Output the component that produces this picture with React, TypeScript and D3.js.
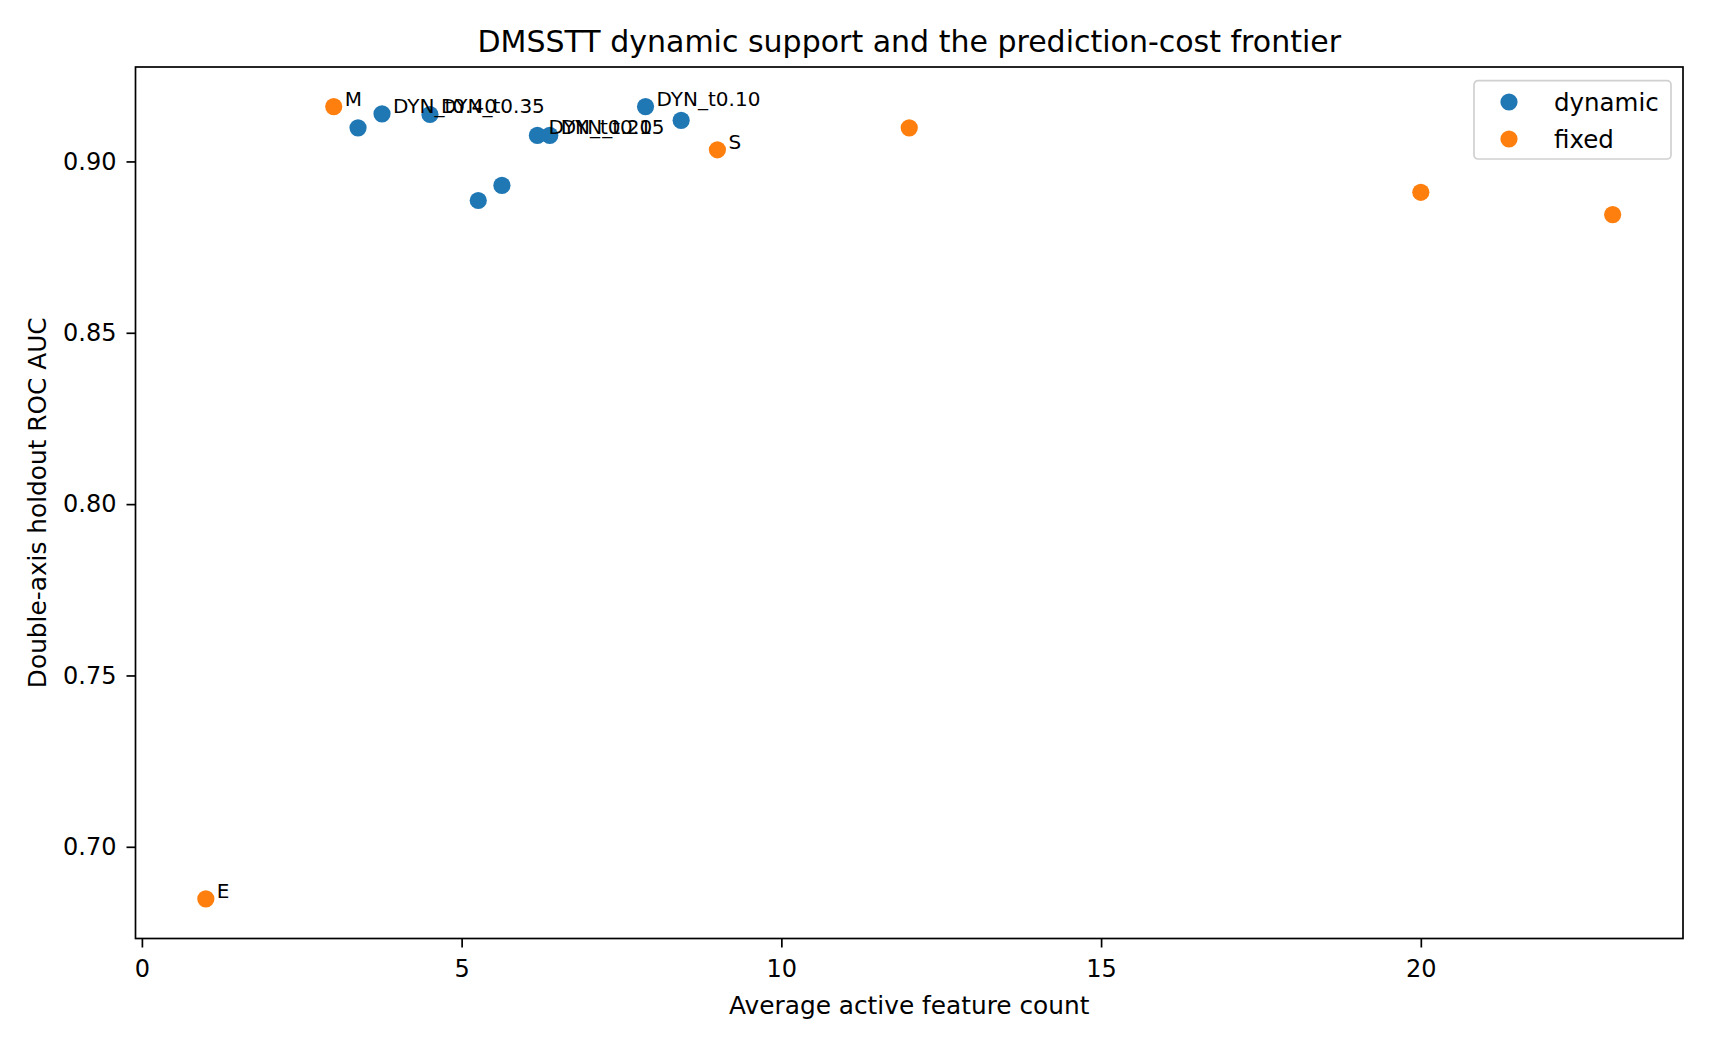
import React, { useEffect, useRef } from 'react';
import * as d3 from 'd3';

// dynamic-support runs (threshold sweep) and fixed-support baselines
const dynamicX = [3.38, 3.755, 4.505, 5.26, 5.63, 6.185, 6.378, 7.876, 8.433];
const dynamicY = [0.9098, 0.9139, 0.9137, 0.8886, 0.893, 0.9076, 0.9076, 0.916, 0.912];
const dynamicLabels = ['', 'DYN_t0.40', 'DYN_t0.35', '', '', 'DYN_t0.20', 'DYN_t0.15', 'DYN_t0.10', ''];

const fixedX = [1, 3, 9, 12, 20, 23];
const fixedY = [0.6848, 0.916, 0.9034, 0.9098, 0.891, 0.8845];
const fixedLabels = ['E', 'M', 'S', '', '', ''];

const xTicks = [0, 5, 10, 15, 20];
const yTicks = [0.7, 0.75, 0.8, 0.85, 0.9];

const seriesNames = ['dynamic', 'fixed'];
const colors = ['#1f77b4', '#ff7f0e'];

const FONT = '"DejaVu Sans", sans-serif';

const App: React.FC = () => {
  const xAxisRef = useRef<SVGGElement>(null);
  const yAxisRef = useRef<SVGGElement>(null);

  const width = 1710;
  const height = 1044;
  const margin = { top: 67, right: 27, bottom: 105.5, left: 135.5 };
  const plotW = width - margin.left - margin.right;
  const plotH = height - margin.top - margin.bottom;

  // matplotlib-style 5% auto margins
  const allX = [...dynamicX, ...fixedX];
  const allY = [...dynamicY, ...fixedY];
  const [x0, x1] = d3.extent(allX) as [number, number];
  const [y0, y1] = d3.extent(allY) as [number, number];
  const xPad = (x1 - x0) * 0.05;
  const yPad = (y1 - y0) * 0.05;

  const xScale = d3.scaleLinear().domain([x0 - xPad, x1 + xPad]).range([0, plotW]);
  const yScale = d3.scaleLinear().domain([y0 - yPad, y1 + yPad]).range([plotH, 0]);

  useEffect(() => {
    if (!xAxisRef.current || !yAxisRef.current) return;
    const xg = d3.select(xAxisRef.current);
    xg.selectAll('*').remove();
    xg.call(
      d3.axisBottom(xScale).tickValues(xTicks).tickFormat(d3.format('d')).tickSize(9).tickSizeOuter(0).tickPadding(12)
    );
    const yg = d3.select(yAxisRef.current);
    yg.selectAll('*').remove();
    yg.call(
      d3.axisLeft(yScale).tickValues(yTicks).tickFormat(d3.format('.2f')).tickSize(9).tickSizeOuter(0).tickPadding(10)
    );
    [xg, yg].forEach(g => {
      g.attr('font-family', FONT).attr('font-size', 24);
      g.select('.domain').remove();
      g.selectAll('.tick line').attr('stroke', '#000').attr('stroke-width', 1.7);
      g.selectAll('.tick text').attr('fill', '#000');
    });
  }, []);

  const series = [
    { xs: dynamicX, ys: dynamicY, labels: dynamicLabels },
    { xs: fixedX, ys: fixedY, labels: fixedLabels },
  ];

  return (
    <svg
      width={width}
      height={height}
      style={{ position: 'absolute', left: 0, top: 0, background: '#fff' }}
      fontFamily={FONT}
    >
      <rect width={width} height={height} fill="#fff" />
      <text x={margin.left + plotW / 2} y={52} textAnchor="middle" fontSize={30}>
        DMSSTT dynamic support and the prediction-cost frontier
      </text>
      <g transform={`translate(${margin.left},${margin.top})`}>
        {series.map((s, si) => (
          <g key={si}>
            {s.xs.map((xv, i) => (
              <circle key={i} cx={xScale(xv)} cy={yScale(s.ys[i])} r={8.6} fill={colors[si]} />
            ))}
          </g>
        ))}
        {series.map((s, si) => (
          <g key={`l${si}`}>
            {s.xs.map((xv, i) =>
              s.labels[i] ? (
                <text key={i} x={xScale(xv) + 11} y={yScale(s.ys[i]) - 1} fontSize={20} fill="#000">
                  {s.labels[i]}
                </text>
              ) : null
            )}
          </g>
        ))}
        <g ref={xAxisRef} transform={`translate(0,${plotH})`} />
        <g ref={yAxisRef} />
        <rect width={plotW} height={plotH} fill="none" stroke="#000" strokeWidth={1.7} />

        {/* legend */}
        <g transform={`translate(${plotW - 209},${13.7})`}>
          <rect width={197} height={78.3} rx={4} fill="#fff" fillOpacity={0.8} stroke="#d0d0d0" strokeWidth={1.7} />
          {seriesNames.map((name, i) => (
            <g key={name} transform={`translate(0,${21.3 + i * 37})`}>
              <circle cx={35} cy={0} r={8.6} fill={colors[i]} />
              <text x={80} y={0} dy="0.35em" fontSize={24.5} fill="#000">
                {name}
              </text>
            </g>
          ))}
        </g>
      </g>
      <text x={margin.left + plotW / 2} y={1014} textAnchor="middle" fontSize={24.8}>
        Average active feature count
      </text>
      <text
        transform={`translate(46,${margin.top + plotH / 2}) rotate(-90)`}
        textAnchor="middle"
        fontSize={24.8}
      >
        Double-axis holdout ROC AUC
      </text>
    </svg>
  );
};

export default App;
